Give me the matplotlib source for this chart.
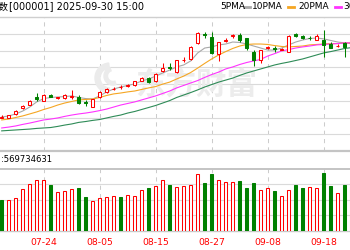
import numpy as np
import matplotlib.pyplot as plt
from matplotlib.patches import Wedge
from matplotlib.transforms import IdentityTransform

plt.rcParams['font.family'] = ['DejaVu Sans', 'Noto Sans CJK SC']

dates = ['07-16', '07-17', '07-18', '07-21', '07-22', '07-23', '07-24', '07-25', '07-28', '07-29',
         '07-30', '07-31', '08-01', '08-04', '08-05', '08-06', '08-07', '08-08', '08-11', '08-12',
         '08-13', '08-14', '08-15', '08-18', '08-19', '08-20', '08-21', '08-22', '08-25', '08-26',
         '08-27', '08-28', '08-29', '09-01', '09-02', '09-03', '09-04', '09-05', '09-08', '09-09',
         '09-10', '09-11', '09-12', '09-15', '09-16', '09-17', '09-18', '09-19', '09-22', '09-23',
         '09-24']

open_ = [3500, 3498, 3514, 3541, 3556, 3592, 3575, 3601, 3588, 3588,
         3594, 3592, 3570, 3549, 3590, 3615, 3628, 3637, 3641, 3644,
         3666, 3677, 3662, 3707, 3727, 3704, 3758, 3763, 3835, 3873,
         3862, 3785, 3844, 3868, 3870, 3855, 3794, 3758, 3814, 3812,
         3805, 3794, 3873, 3866, 3859, 3848, 3848, 3832, 3819, 3835,
         3826]
close = [3502, 3511, 3531, 3553, 3575, 3585, 3603, 3592, 3590, 3599,
         3597, 3565, 3565, 3581, 3615, 3630, 3630, 3639, 3644, 3664,
         3677, 3659, 3695, 3722, 3722, 3758, 3760, 3817, 3879, 3870,
         3790, 3837, 3846, 3870, 3848, 3810, 3758, 3803, 3817, 3808,
         3808, 3868, 3868, 3855, 3855, 3866, 3826, 3812, 3821, 3817,
         3848]
high = [3509, 3513, 3532, 3555, 3579, 3611, 3606, 3606, 3594, 3606,
        3624, 3601, 3579, 3583, 3617, 3632, 3639, 3646, 3650, 3666,
        3680, 3684, 3698, 3743, 3743, 3760, 3772, 3819, 3882, 3882,
        3882, 3839, 3857, 3875, 3879, 3859, 3803, 3805, 3823, 3819,
        3810, 3870, 3879, 3870, 3864, 3875, 3893, 3837, 3828, 3839,
        3850]
low = [3496, 3496, 3513, 3540, 3555, 3576, 3574, 3590, 3581, 3585,
       3583, 3561, 3552, 3547, 3588, 3612, 3624, 3630, 3635, 3641,
       3664, 3655, 3659, 3704, 3713, 3702, 3749, 3760, 3832, 3859,
       3787, 3754, 3837, 3859, 3839, 3803, 3731, 3745, 3808, 3796,
       3803, 3792, 3862, 3853, 3848, 3846, 3772, 3810, 3817, 3772,
       3821]

ma5 = [3502, 3507, 3516, 3529, 3547, 3570, 3585, 3590, 3592, 3594,
       3597, 3590, 3585, 3583, 3597, 3615, 3628, 3637, 3644, 3651,
       3664, 3673, 3686, 3700, 3713, 3727, 3736, 3754, 3790, 3812,
       3817, 3826, 3830, 3839, 3837, 3830, 3821, 3812, 3803, 3803,
       3812, 3826, 3839, 3848, 3855, 3857, 3853, 3846, 3839, 3835,
       3832]
ma10 = [3489, 3493, 3500, 3507, 3516, 3525, 3536, 3545, 3556, 3565,
        3572, 3579, 3581, 3583, 3590, 3599, 3606, 3610, 3615, 3619,
        3626, 3633, 3639, 3650, 3659, 3673, 3686, 3702, 3722, 3743,
        3763, 3781, 3796, 3810, 3821, 3828, 3830, 3830, 3828, 3823,
        3819, 3817, 3819, 3821, 3826, 3828, 3830, 3832, 3832, 3835,
        3835]
ma20 = [3453, 3457, 3462, 3469, 3475, 3482, 3489, 3493, 3498, 3505,
        3511, 3516, 3520, 3525, 3531, 3538, 3547, 3556, 3563, 3570,
        3579, 3588, 3597, 3608, 3619, 3633, 3644, 3655, 3666, 3680,
        3693, 3704, 3718, 3727, 3738, 3747, 3754, 3761, 3776, 3787,
        3799, 3805, 3812, 3817, 3821, 3826, 3828, 3830, 3832, 3835,
        3835]
ma30 = [3440, 3442, 3444, 3446, 3448, 3451, 3453, 3455, 3460, 3466,
        3471, 3478, 3482, 3487, 3491, 3498, 3505, 3511, 3520, 3527,
        3536, 3545, 3554, 3565, 3576, 3590, 3601, 3612, 3624, 3637,
        3648, 3659, 3668, 3677, 3689, 3700, 3709, 3718, 3727, 3736,
        3743, 3749, 3756, 3763, 3772, 3781, 3790, 3796, 3803, 3810,
        3814]

# 成交量 (亿)
volume = [3.71, 3.71, 3.92, 5.01, 5.65, 6.13, 6.13, 5.61, 4.65, 4.80,
          5.01, 5.25, 4.04, 3.59, 3.92, 4.04, 4.24, 4.11, 4.40, 4.24,
          4.92, 5.13, 5.41, 6.13, 5.61, 5.32, 5.45, 5.61, 6.95, 5.81,
          6.86, 6.22, 5.86, 5.86, 6.01, 5.13, 5.74, 4.92, 5.25, 4.80,
          4.24, 4.92, 5.61, 5.13, 5.32, 5.25, 7.02, 5.45, 4.53, 5.61,
          5.32]
vol_side = 'GRRRRRRGRRRGGRRRRGRRRGRRGRRRRGGRRRGGGRRGRRGGRRGGRGR'

tick_labels = ['07-14', '07-24', '08-05', '08-15', '08-27', '09-08', '09-18']
tick_pos = [-2, 6, 14, 22, 30, 38, 46]

RED = '#ff0000'
GREEN = '#008000'
GRID = '#dadada'

W, H = 350, 250
fig = plt.figure(figsize=(3.5, 2.5), dpi=100)


def box(top, bottom):
    return [0, 1 - bottom / H, 1, (bottom - top) / H]


ax = fig.add_axes(box(17.3, 150.9))
axv = fig.add_axes(box(169, 230.7))

x = np.arange(len(dates))
o = np.array(open_)
c = np.array(close)
up = c >= o
xlim = (-0.243, 49.757)

for a in (ax, axv):
    for s in a.spines.values():
        s.set_visible(False)
    a.set_yticks([])
    for t in tick_pos:
        a.axvline(t, color='#cccccc', lw=0.75, dashes=(4, 4), zorder=0)

# main panel
ax.set_ylim(3350, 3950)
ax.set_xticks([])
for yv in np.arange(3425, 3950, 75):
    ax.axhline(yv, color=GRID, lw=0.8, zorder=0)
ax.axhline(3950, color='#cfcfcf', lw=1.0, clip_on=False, zorder=0)
ax.axhline(3350, color='#c4c4c4', lw=1.6, clip_on=False, zorder=0)

# watermark (logo + name)
for r, w, t1, t2, cx, cy in [(15, 5, 95, 265, 110, 172), (9, 3.5, 110, 290, 113, 174)]:
    ax.add_patch(Wedge((cx, cy), r, t1, t2, width=w, color='#ebebeb',
                       transform=IdentityTransform(), zorder=0.5))
ax.text(0.56, 0.5, '东方财富', transform=ax.transAxes, ha='center', va='center',
        fontsize=22, fontweight='bold', color='#ececec', family='Noto Sans CJK SC', zorder=0.5)

ax.plot(x, ma5, color='#a8a8a8', lw=0.8, zorder=2)
ax.plot(x, ma10, color='#f5a623', lw=0.8, zorder=2)
ax.plot(x, ma20, color='#ff33ff', lw=0.8, zorder=2)
ax.plot(x, ma30, color='#2e8b57', lw=0.8, zorder=2)

cols = np.where(up, RED, GREEN)
ax.vlines(x, low, high, colors=cols, lw=0.75, zorder=3)
ax.bar(x[up], np.maximum(c[up] - o[up], 0.5), bottom=o[up], width=0.5,
       facecolor='white', edgecolor=RED, lw=0.75, zorder=4)
ax.bar(x[~up], o[~up] - c[~up], bottom=c[~up], width=0.5,
       facecolor=GREEN, edgecolor=GREEN, lw=0.75, zorder=4)

# volume panel
axv.set_ylim(0, 7.5)
for yv in (1.875, 3.75, 5.625):
    axv.axhline(yv, color=GRID, lw=0.8, zorder=0)
axv.axhline(7.5, color='#c4c4c4', lw=1.4, clip_on=False, zorder=0)
axv.axhline(0, color='#c8c8c8', lw=1.0, clip_on=False, zorder=0)
vup = np.array([s == 'R' for s in vol_side])
axv.bar(x[vup], np.array(volume)[vup], width=0.5, facecolor='white', edgecolor=RED, lw=0.75, zorder=3)
axv.bar(x[~vup], np.array(volume)[~vup], width=0.5, facecolor=GREEN, edgecolor=GREEN, lw=0.75, zorder=3)
axv.set_xticks(tick_pos, tick_labels)
axv.tick_params(axis='x', length=0, pad=5, labelsize=6.7, labelcolor=RED)

# set_xticks widens the view, so fix the range last
for a in (ax, axv):
    a.set_xlim(*xlim)

# header texts
fig.text(9 / W, 1 - 6.5 / H, '上证指数', ha='right', va='center', fontsize=7, family='Noto Sans CJK SC')
fig.text(9 / W, 1 - 6.5 / H, '[000001] 2025-09-30 15:00', ha='left', va='center', fontsize=7)
fig.text(0.5 / W, 1 - 160 / H, ':569734631', ha='left', va='center', fontsize=6.1)

legend = [('5PMA', '#a8a8a8', 220, 244), ('10PMA', '#f5a623', 252, 288),
          ('20PMA', '#ff33ff', 298, 335), ('30PMA', '#2e8b57', 343, 380)]
for name, col, tx, lx in legend:
    fig.text(tx / W, 1 - 6.5 / H, name, ha='left', va='center', fontsize=6.5)
    fig.add_artist(plt.Line2D([lx / W, (lx + 6) / W], [1 - 7 / H, 1 - 7 / H], color=col, lw=2))

fig.savefig('out.png', dpi=100)
